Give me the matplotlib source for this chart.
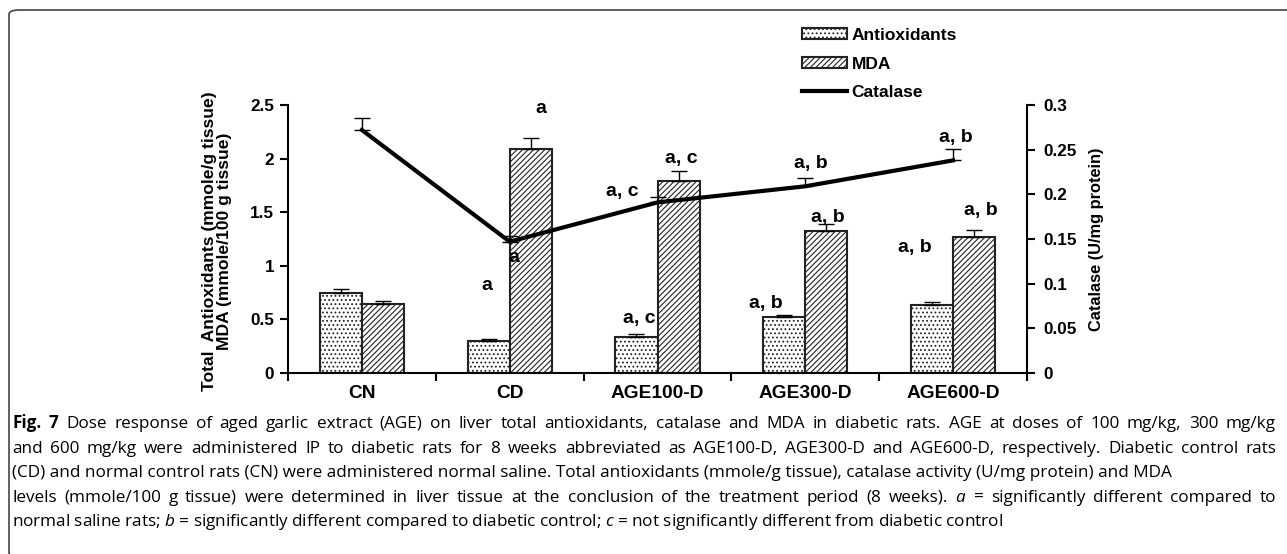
import matplotlib.pyplot as plt
import numpy as np
from matplotlib.patches import FancyBboxPatch, Patch
from matplotlib.lines import Line2D

groups = ["CN", "CD", "AGE100-D", "AGE300-D", "AGE600-D"]
antiox = [0.75, 0.30, 0.34, 0.52, 0.63]
antiox_err = [0.03, 0.02, 0.02, 0.02, 0.03]
mda = [0.64, 2.09, 1.79, 1.32, 1.27]
mda_err = [0.03, 0.10, 0.09, 0.07, 0.06]
catalase = [0.272, 0.147, 0.191, 0.209, 0.238]
catalase_err = [0.013, 0.006, 0.006, 0.009, 0.013]

# significance letters and where they sit (group position, left-axis units)
letters = [
    ("a", 1.21, 2.47), ("a", 0.845, 0.82), ("a", 1.03, 1.08),
    ("a, c", 1.76, 1.69), ("a, c", 2.16, 2.0), ("a, c", 1.88, 0.51),
    ("a, b", 2.73, 0.65), ("a, b", 3.04, 1.95), ("a, b", 3.15, 1.455),
    ("a, b", 3.74, 1.175), ("a, b", 4.19, 1.52), ("a, b", 4.02, 2.20),
]

caption = [
    "Dose response of aged garlic extract (AGE) on liver total antioxidants, catalase and MDA in diabetic rats. AGE at doses of 100 mg/kg, 300 mg/kg",
    "and 600 mg/kg were administered IP to diabetic rats for 8 weeks abbreviated as AGE100-D, AGE300-D and AGE600-D, respectively. Diabetic control rats",
    "(CD) and normal control rats (CN) were administered normal saline. Total antioxidants (mmole/g tissue), catalase activity (U/mg protein) and MDA",
    "levels (mmole/100 g tissue) were determined in liver tissue at the conclusion of the treatment period (8 weeks). $\\mathit{a}$ = significantly different compared to",
    "normal saline rats; $\\mathit{b}$ = significantly different compared to diabetic control; $\\mathit{c}$ = not significantly different from diabetic control",
]
justified = [True, True, False, True, False]

plt.rcParams["font.family"] = "Liberation Sans"
plt.rcParams["hatch.linewidth"] = 0.8
plt.rcParams["mathtext.fontset"] = "custom"
plt.rcParams["mathtext.it"] = "Open Sans:italic"
plt.rcParams["mathtext.rm"] = "Open Sans"

W, H = 1287, 554
fig = plt.figure(figsize=(W / 100, H / 100), dpi=100)

# rounded frame, running off the right and bottom edges
frame = FancyBboxPatch((9 / W, -3 / H), 1.5, 1 - 7 / H,
                       boxstyle="round,pad=0,rounding_size=0.008",
                       transform=fig.transFigure, fill=False,
                       edgecolor="#444444", linewidth=1.2)
fig.patches.append(frame)

ax = fig.add_axes([288 / W, 1 - 373 / H, (1027 - 288) / W, (373 - 105) / H])
x = np.arange(len(groups))
w = 0.285

ax.bar(x - w / 2, antiox, w, color="white", edgecolor="#222222", hatch="....",
       linewidth=1.5, zorder=2)
ax.bar(x + w / 2, mda, w, color="white", edgecolor="#222222", hatch="//////",
       linewidth=1.5, zorder=2)
ax.errorbar(x - w / 2, antiox, yerr=[np.zeros(len(x)), antiox_err], fmt="none",
            ecolor="black", elinewidth=1, capsize=6, capthick=1, zorder=3)
ax.errorbar(x + w / 2, mda, yerr=[np.zeros(len(x)), mda_err], fmt="none",
            ecolor="black", elinewidth=1, capsize=6, capthick=1, zorder=3)

ax.set_xlim(-0.5, len(groups) - 0.5)
ax.set_ylim(0, 2.5)
ax.set_yticks([0, 0.5, 1, 1.5, 2, 2.5])
ax.set_yticklabels(["0", "0.5", "1", "1.5", "2", "2.5"])
ax.set_xticks(np.arange(-0.5, len(groups), 1))
ax.set_xticklabels([])
ax.set_xticks(x, minor=True)
ax.set_xticklabels(groups, minor=True, fontsize=13.8, fontweight="bold")
ax.tick_params(axis="x", which="minor", length=0, pad=9)
ax.tick_params(axis="x", which="major", length=6, width=1.5)
ax.tick_params(axis="y", length=6, width=1.5, labelsize=12.3, pad=4)
for lab in ax.get_yticklabels():
    lab.set_fontweight("bold")
for s in ["top", "right"]:
    ax.spines[s].set_visible(False)
for s in ["left", "bottom"]:
    ax.spines[s].set_linewidth(1.5)

ax2 = ax.twinx()
ax2.plot(x, catalase, color="black", linewidth=3, zorder=4)
ax2.errorbar(x, catalase, yerr=[np.zeros(len(x)), catalase_err], fmt="none",
             ecolor="black", elinewidth=1, capsize=6, capthick=1)
ax2.set_ylim(0, 0.3)
ax2.set_yticks([0, 0.05, 0.1, 0.15, 0.2, 0.25, 0.3])
ax2.set_yticklabels(["0", "0.05", "0.1", "0.15", "0.2", "0.25", "0.3"])
ax2.tick_params(axis="y", length=6, width=1.5, labelsize=12.3, pad=6)
for lab in ax2.get_yticklabels():
    lab.set_fontweight("bold")
for s in ["top", "left", "bottom"]:
    ax2.spines[s].set_visible(False)
ax2.spines["right"].set_linewidth(1.5)

for txt, gx, gy in letters:
    ax2.text(gx, gy * 0.3 / 2.5, txt, ha="center", va="center", fontsize=14,
             fontweight="bold", zorder=5)

fig.text(217 / W, 1 - 241 / H,
         "Total  Antioxidants (mmole/g tissue)\nMDA (mmole/100 g tissue)",
         rotation=90, ha="center", va="center", multialignment="center",
         fontsize=12.6, fontweight="bold", linespacing=0.95)
fig.text(1096 / W, 1 - 239 / H, "Catalase (U/mg protein)", rotation=90,
         ha="center", va="center", fontsize=11.8, fontweight="bold")

handles = [
    Patch(facecolor="white", edgecolor="#222222", hatch="....", linewidth=1.5),
    Patch(facecolor="white", edgecolor="#222222", hatch="//////", linewidth=1.5),
    Line2D([0], [0], color="black", linewidth=3),
]
fig.legend(handles, ["Antioxidants", "MDA", "Catalase"],
           loc="upper left", bbox_to_anchor=(802 / W, 1 - 28 / H),
           frameon=False, prop={"weight": "bold", "size": 12.5},
           handlelength=2.6, handleheight=0.6, handletextpad=0.25,
           labelspacing=0.78, borderaxespad=0, borderpad=0)

# caption: full lines are justified word by word, short ones drawn as is
cap_font = {"family": "Open Sans", "size": 12.3}
renderer = fig.canvas.get_renderer()
x_left, x_right = 12, 1276
base0 = 428
step = 24.6

for i, line in enumerate(caption):
    yb = 1 - (base0 + i * step) / H
    if not justified[i]:
        fig.text(x_left / W, yb, line, ha="left", va="baseline", fontdict=cap_font)
        continue
    words = line.split(" ")
    styles = [dict(cap_font) for _ in words]
    if i == 0:
        words = ["Fig.", "7"] + words
        styles = [dict(cap_font, weight="bold"), dict(cap_font, weight="bold")] + styles
    arts = [fig.text(0, yb, wd, ha="left", va="baseline", fontdict=st)
            for wd, st in zip(words, styles)]
    widths = [a.get_window_extent(renderer).width for a in arts]
    gap = (x_right - x_left - sum(widths)) / (len(words) - 1)
    cx = x_left
    for a, wd in zip(arts, widths):
        a.set_x(cx / W)
        cx += wd + gap

fig.savefig("out.png", dpi=100)
